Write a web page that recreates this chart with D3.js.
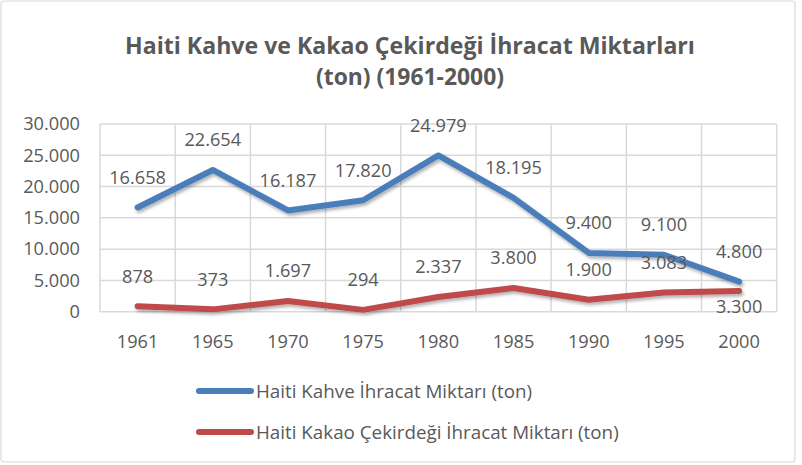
<!DOCTYPE html>
<html><head><meta charset="utf-8">
<script src="https://cdn.jsdelivr.net/npm/d3@7"></script>
<style>body{margin:0;background:#fff}svg{display:block}text{font-family:"Open Sans",sans-serif;fill:#595959}</style>
</head><body><div id="c"></div>
<script>
const years = ["1961","1965","1970","1975","1980","1985","1990","1995","2000"];
const coffee = [16658,22654,16187,17820,24979,18195,9400,9100,4800];
const cocoa = [878,373,1697,294,2337,3800,1900,3083,3300];
const cocoaLabelPos = ["above","above","above","above","above","above","above","above","below"];
const coffeeLabelPos = ["above","above","above","above","above","above","above","above","above"];
const yTicks = [0,5000,10000,15000,20000,25000,30000];
const titleLines = ["Haiti Kahve ve Kakao Çekirdeği İhracat Miktarları","(ton) (1961-2000)"];
const seriesNames = ["Haiti Kahve İhracat Miktarı (ton)","Haiti Kakao Çekirdeği İhracat Miktarı (ton)"];
const colors = ["#4a7ebb","#be4b48"];

const W=802,H=465;
const svg=d3.select("#c").append("svg").attr("width",W).attr("height",H);
const defs=svg.append("defs");
const f=defs.append("filter").attr("id","sh").attr("x","-10%").attr("y","-20%").attr("width","120%").attr("height","160%");
f.append("feDropShadow").attr("dx",1.5).attr("dy",2.5).attr("stdDeviation",1.5).attr("flood-color","#000").attr("flood-opacity",0.3);

svg.append("rect").attr("x",1).attr("y",1).attr("width",794).attr("height",461).attr("rx",3)
  .attr("fill","#fff").attr("stroke","#d9d9d9").attr("stroke-width",1.2);

const L=100,R=776.7,T=124,B=311.7;
const x=d3.scaleBand().domain(years).range([L,R]);
const y=d3.scaleLinear().domain([0,30000]).range([B,T]);
const fmt=v=>d3.format(",")(v).replace(/,/g,".");
const FS=18.2;

// grid
const g=svg.append("g");
g.selectAll("line.h").data(yTicks).join("line").attr("x1",L).attr("x2",R)
 .attr("y1",d=>y(d)).attr("y2",d=>y(d)).attr("stroke","#d9d9d9").attr("stroke-width",1.5);
const vb=years.map(d=>x(d)).concat([R]);
g.selectAll("line.v").data(vb).join("line").attr("x1",d=>d).attr("x2",d=>d)
 .attr("y1",T).attr("y2",B).attr("stroke","#d9d9d9").attr("stroke-width",1.5);

// y axis labels
const yAxis=d3.axisLeft(y).tickValues(yTicks).tickSize(0).tickPadding(0).tickFormat(d=>d===0?"0":fmt(d));
const ya=svg.append("g").attr("transform",`translate(80,0)`).call(yAxis);
ya.select(".domain").remove();
ya.selectAll("text").attr("font-size",FS).attr("fill","#595959").attr("font-family","Open Sans");

// x axis labels
const xAxis=d3.axisBottom(x).tickSize(0).tickPadding(0);
const xa=svg.append("g").attr("transform",`translate(0,335)`).call(xAxis);
xa.select(".domain").remove();
xa.selectAll("text").attr("font-size",FS).attr("fill","#595959").attr("font-family","Open Sans");

const cx=d=>x(d)+x.bandwidth()/2;
const line=d3.line().x((d,i)=>cx(years[i])).y(d=>y(d));
[cocoa,coffee].forEach((s,k)=>{
  svg.append("path").datum(s).attr("d",line).attr("fill","none")
   .attr("stroke",colors[k===0?1:0]).attr("stroke-width",6).attr("stroke-linecap","round").attr("stroke-linejoin","round")
   .attr("filter","url(#sh)");
});

function labels(s,pos){
  svg.append("g").selectAll("text").data(s).join("text")
   .attr("x",(d,i)=>cx(years[i])).attr("y",(d,i)=>y(d)+(pos[i]==="below"?16:-30))
   .attr("dy","0.35em").attr("text-anchor","middle").attr("font-size",FS).text(d=>fmt(d));
}
labels(coffee,coffeeLabelPos);
labels(cocoa,cocoaLabelPos);

// title
titleLines.forEach((t,i)=>{
  const el=svg.append("text").attr("x",410).attr("y",[54,85][i]).attr("text-anchor","middle")
   .attr("font-family","Lato").attr("font-size",23).attr("font-weight","bold").text(t);
  const w=el.node().getComputedTextLength();
  el.attr("font-size",23*[570,188][i]/w);
});

// legend
const lt=[];
seriesNames.forEach((n,i)=>{
  const yy=[391,432][i];
  svg.append("line").attr("x1",199).attr("x2",251).attr("y1",yy).attr("y2",yy)
   .attr("stroke",colors[i]).attr("stroke-width",6).attr("stroke-linecap","round");
  lt.push(svg.append("text").attr("x",256).attr("y",yy).attr("dy","0.35em").attr("font-size",17).text(n));
});
const lw=lt[1].node().getComputedTextLength();
lt.forEach(t=>t.attr("font-size",17*363/lw));
</script></body></html>
